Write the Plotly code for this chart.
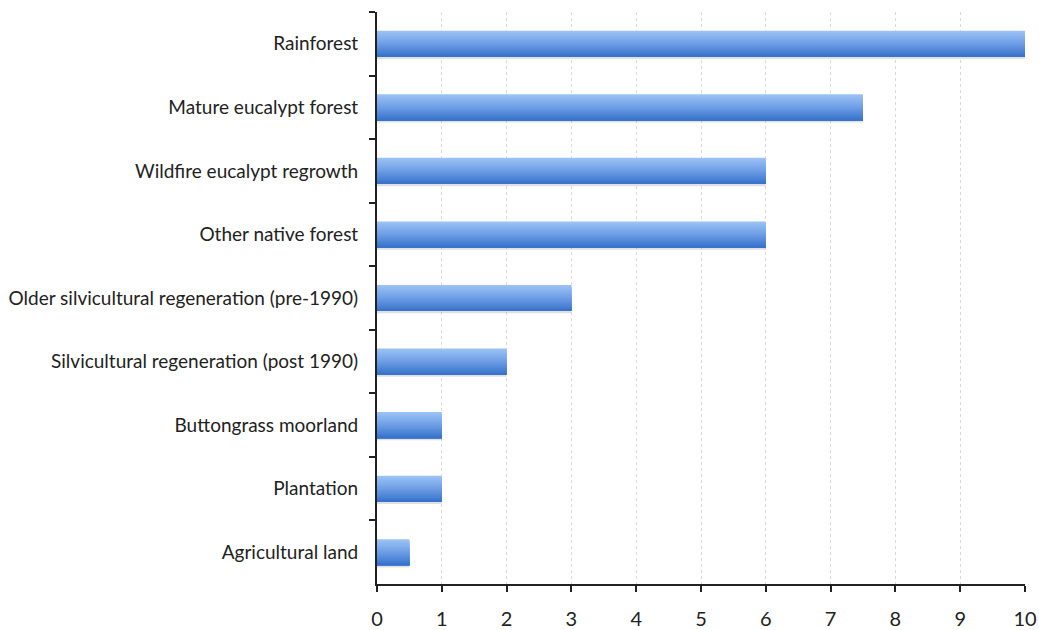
import plotly.graph_objects as go

categories = [
    "Rainforest",
    "Mature eucalypt forest",
    "Wildfire eucalypt regrowth",
    "Other native forest",
    "Older silvicultural regeneration (pre-1990)",
    "Silvicultural regeneration (post 1990)",
    "Buttongrass moorland",
    "Plantation",
    "Agricultural land",
]
values = [10, 7.5, 6, 6, 3, 2, 1, 1, 0.5]
x_ticks = list(range(0, 11))

fig = go.Figure()

BAR_W = 0.41
# soft shadow under bars
fig.add_trace(go.Bar(
    y=categories, x=values, orientation="h",
    width=BAR_W, offset=-BAR_W / 2 + 0.035,
    marker=dict(color="rgba(0,0,0,0.12)", line=dict(width=0)),
    hoverinfo="skip", showlegend=False,
))

top = (155, 194, 245)
mid = (110, 158, 230)
bot = (56, 116, 204)
N = 20
for k in range(N):
    t = k / (N - 1)
    if t < 0.5:
        u = t / 0.5
        c = tuple(int(top[i] + (mid[i] - top[i]) * u) for i in range(3))
    else:
        u = (t - 0.5) / 0.5
        c = tuple(int(mid[i] + (bot[i] - mid[i]) * u) for i in range(3))
    h = BAR_W / N
    fig.add_trace(go.Bar(
        y=categories, x=values, orientation="h",
        width=BAR_W - k * h, offset=-BAR_W / 2 + k * h,
        marker=dict(color="rgb(%d,%d,%d)" % c, line=dict(width=0)),
        hoverinfo="skip", showlegend=False,
    ))

fig.update_layout(
    barmode="overlay",
    width=1039, height=630,
    margin=dict(l=377, r=14, t=12, b=46, autoexpand=False),
    paper_bgcolor="white", plot_bgcolor="white",
    font=dict(family="Lato, 'Open Sans', sans-serif", color="#222"),
    xaxis=dict(
        range=[0, 10], tickvals=x_ticks, ticktext=[str(v) for v in x_ticks],
        showgrid=True, gridcolor="#dadada", griddash="dot", gridwidth=1,
        showline=True, linecolor="#222", linewidth=2,
        ticks="outside", ticklen=6, tickwidth=2, tickcolor="#222",
        tickfont=dict(size=20), ticklabelstandoff=10,
        zeroline=False, automargin=False,
    ),
    yaxis=dict(
        categoryorder="array", categoryarray=categories, autorange="reversed",
        showline=True, linecolor="#222", linewidth=2,
        ticks="outside", ticklen=6, tickwidth=2, tickcolor="#222",
        tickson="boundaries", showgrid=False,
        tickfont=dict(size=19), ticklabelstandoff=13, automargin=False,
    ),
)

fig.write_html("out.html")
